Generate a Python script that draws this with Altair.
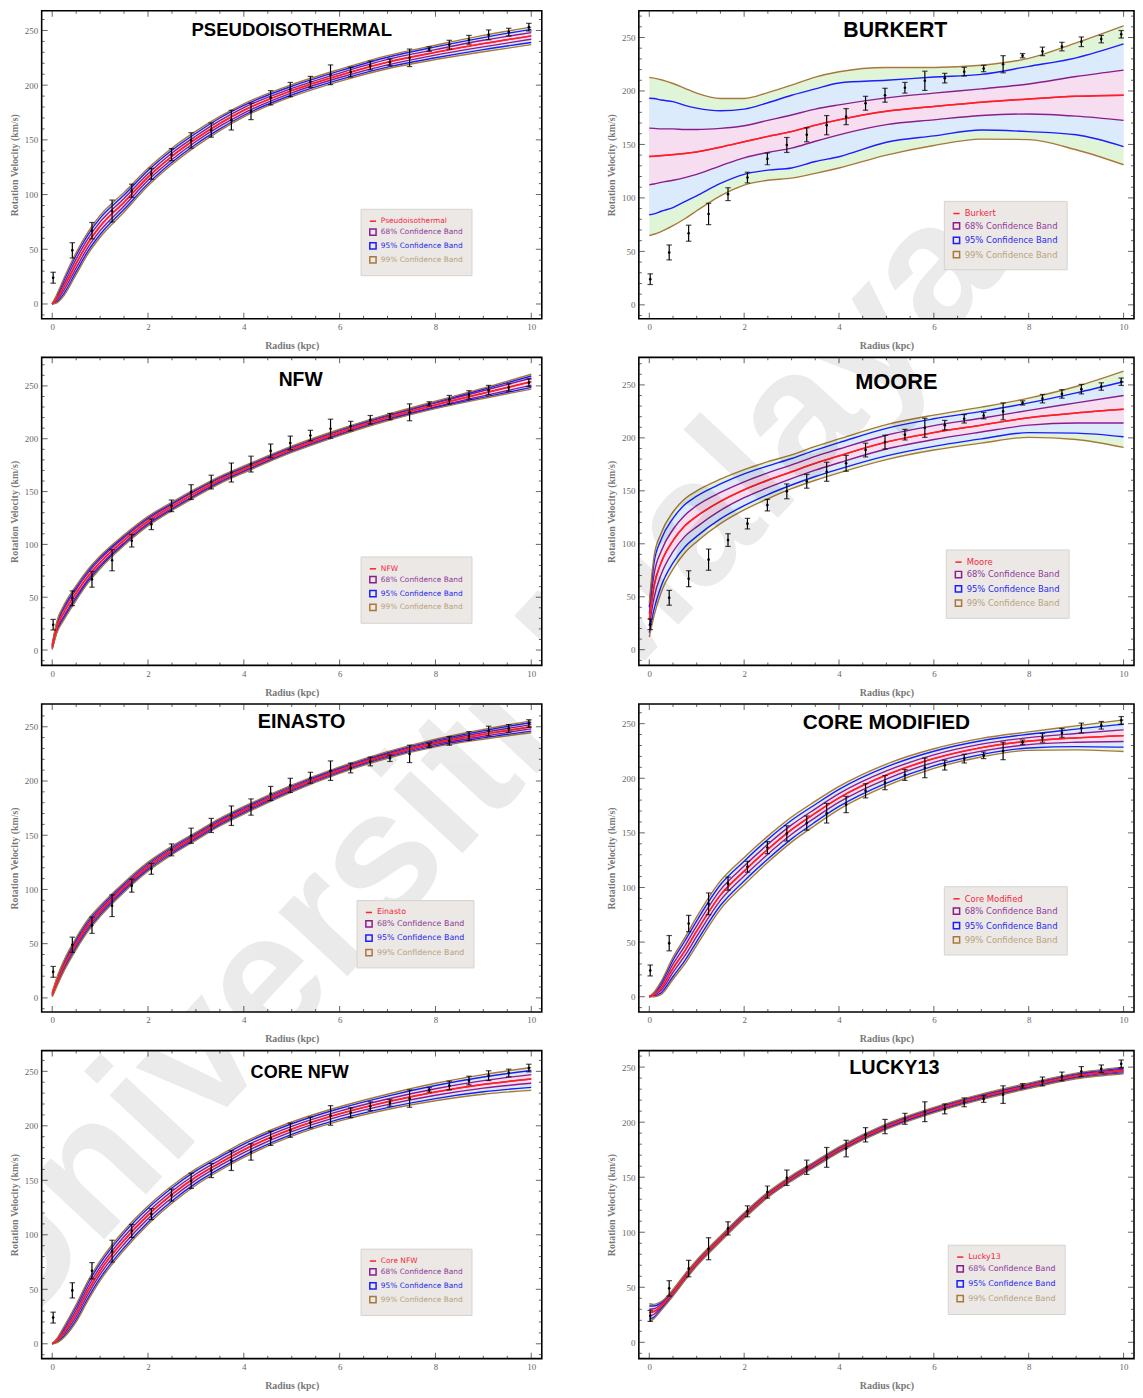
import altair as alt
import pandas as pd

# ---------------- data ----------------
# radii (kpc) at which the fitted curves / bands were read
XG = [0, 0.1, 0.25, 0.5, 0.75, 1, 1.5, 2, 2.5, 3, 3.5, 4, 5, 6, 7, 8, 9, 10]

# observed rotation curve (same in every panel)
RADIUS = [0.02, 0.42, 0.83, 1.25, 1.66, 2.07, 2.49, 2.90, 3.32, 3.74, 4.15, 4.56, 4.97,
          5.39, 5.81, 6.23, 6.64, 7.05, 7.46, 7.87, 8.29, 8.70, 9.11, 9.53, 9.95]
VEL = [24, 49, 67, 85, 103.5, 119, 136.5, 149.5, 159, 168, 176, 188.5, 196,
       203, 209.5, 212, 218, 221, 225, 233, 237, 241.5, 246, 248.5, 253]
ERR = [5, 7, 7.5, 10, 6, 5, 5.5, 7, 6.5, 9, 7.5, 6.5, 6.5,
       5, 9, 4.5, 4, 3, 8, 2, 4, 4, 4.5, 3.5, 3.5]

# fitted curves (centre) and half widths of the 68/95/99 % bands
PSEUDO_C = [0, 5, 16, 37, 56, 71, 93, 116, 135, 151, 165, 177, 195, 209, 221, 230, 238, 245]
PSEUDO_W68 = [0, 1.5, 3, 4, 4, 4, 3.5, 3, 3, 2.5, 2.5, 2.5, 2, 2, 2.5, 2.5, 3, 3]
PSEUDO_W95 = [0, 3, 6, 7.5, 7.5, 7.5, 6.5, 6, 5.5, 5, 5, 4.5, 4, 4, 4.5, 5, 5.5, 6]
PSEUDO_W99 = [0, 4, 8, 10, 10, 10, 9, 8, 7.5, 7, 6.5, 6, 5.5, 5.5, 6, 6.5, 7.5, 8]

BURKERT_C = [138.7, 139, 139.5, 140.5, 141.5, 143, 147.5, 152.5, 157.5, 162, 168, 173, 181, 185.5, 189.5, 192.5, 195, 196]
BURKERT_W68 = [26.5, 26, 25, 24, 22.5, 21, 17.5, 15, 15, 15.5, 15, 14, 12.5, 12.5, 12.5, 14, 18.5, 23.5]
BURKERT_W95 = [54.5, 54, 52, 49.5, 45, 41, 34, 30.5, 31.5, 34, 34, 34.5, 29, 27.5, 26, 30.5, 36, 48]
BURKERT_W99 = [74, 73, 71, 66.5, 61, 55, 45.5, 40.5, 41, 43.5, 45, 45, 41, 36.5, 34.5, 38, 50, 65]

NFW_C = [3, 22, 36, 54, 70, 83, 104, 122, 136, 149, 161, 171, 190, 206, 220, 232, 243, 254]
NFW_W68 = [1.2, 2.6, 3.3, 3.3, 3, 2.8, 2.4, 2.1, 1.9, 1.8, 1.6, 1.5, 1.4, 1.4, 1.4, 1.7, 2.4, 3.4]
NFW_W95 = [1.9, 4.2, 5.3, 5.3, 4.9, 4.5, 3.8, 3.4, 3.0, 2.8, 2.6, 2.4, 2.3, 2.3, 2.3, 2.7, 3.8, 5.4]
NFW_W99 = [2.5, 5.5, 7, 7, 6.5, 6, 5, 4.5, 4, 3.7, 3.4, 3.2, 3, 3, 3, 3.5, 4.9, 7]

MOORE_C = [28, 60, 82, 103, 117, 126, 140, 151, 160, 168, 176, 183, 196, 205, 212, 219, 223.5, 227]
MOORE_W68 = [6, 11, 11, 10.5, 10, 10, 8.5, 7.5, 7, 6.5, 6.5, 6.5, 6.5, 6.5, 6.5, 7, 9.5, 13]
MOORE_W95 = [12, 22, 22, 21, 20, 19, 16.5, 15, 13.5, 12.5, 12.5, 12.5, 13, 13, 13, 14, 19, 26]
MOORE_W99 = [16, 28, 28, 27, 25.5, 24, 21, 19, 17.5, 16, 16, 16, 16.5, 16.5, 17, 18.5, 25, 36]

EINASTO_C = [3, 15, 30, 50, 67, 80, 102, 121, 136, 149, 162, 173, 193, 210, 224, 235, 243, 250]
EINASTO_W68 = [0.7, 1.5, 1.8, 2, 2, 1.8, 1.7, 1.6, 1.5, 1.4, 1.3, 1.3, 1.2, 1.1, 1.1, 1.3, 1.7, 2]
EINASTO_W95 = [1.5, 3, 3.7, 4, 4, 3.7, 3.3, 3.1, 3, 2.7, 2.6, 2.6, 2.4, 2.2, 2.2, 2.6, 3.3, 4]
EINASTO_W99 = [2, 4, 5, 5.5, 5.5, 5, 4.5, 4.2, 4, 3.7, 3.5, 3.5, 3.2, 3, 3, 3.5, 4.5, 5.5]

COREMOD_C = [0, 2, 8, 26, 42, 60, 93, 115, 135, 153, 168, 182, 203, 218, 228, 234, 237, 239]
COREMOD_W68 = [0, 0.7, 2.2, 3.8, 4.5, 4.8, 4.8, 4.6, 4.5, 4.3, 4, 3.9, 3.7, 3.4, 3.2, 3.2, 4, 5.3]
COREMOD_W95 = [0, 1.5, 4.5, 7.5, 9, 9.5, 9.5, 9, 9, 8.5, 8, 7.8, 7.4, 6.7, 6.3, 6.3, 8, 10.5]
COREMOD_W99 = [0, 2, 6, 10, 12, 13, 13, 12.5, 12, 11.5, 11, 10.5, 10, 9, 8.5, 8.5, 11, 14.5]

CORENFW_C = [0, 3, 11, 28, 49, 67, 95, 118, 137, 153, 166, 178, 197, 211, 222, 231, 238, 243]
CORENFW_W68 = [0, 0.7, 1.8, 3, 3.4, 3.4, 3.4, 3.2, 3, 2.8, 2.6, 2.6, 2.4, 2.4, 2.6, 3, 3.4, 4]
CORENFW_W95 = [0, 1.5, 3.8, 6, 6.8, 6.8, 6.8, 6.4, 6, 5.6, 5.3, 5.3, 4.9, 4.9, 5.3, 6, 6.8, 7.7]
CORENFW_W99 = [0, 2, 5, 8, 9, 9, 9, 8.5, 8, 7.5, 7, 7, 6.5, 6.5, 7, 8, 9, 10.5]

LUCKY_C = [27, 28, 33, 45, 59, 72, 94, 115, 134, 149, 162, 175, 196, 211, 223, 233, 242, 247]
LUCKY_W68 = [3, 2.5, 1.5, 1.1, 1.1, 1, 1, 1, 0.9, 0.9, 0.9, 0.9, 0.9, 0.9, 0.9, 0.9, 1, 1.1]
LUCKY_W95 = [6, 5, 3, 2.2, 2.2, 2, 1.9, 1.9, 1.8, 1.8, 1.8, 1.8, 1.8, 1.8, 1.8, 1.8, 1.9, 2.2]
LUCKY_W99 = [8, 6.5, 4, 3, 3, 2.8, 2.6, 2.6, 2.5, 2.5, 2.5, 2.5, 2.5, 2.5, 2.5, 2.5, 2.6, 3]

BANDS = ["68% Confidence Band", "95% Confidence Band", "99% Confidence Band"]
X_LABELS = [0, 2, 4, 6, 8, 10]
X_MINOR = [0.5, 1, 1.5, 2.5, 3, 3.5, 4.5, 5, 5.5, 6.5, 7, 7.5, 8.5, 9, 9.5]
Y_LABELS = [0, 50, 100, 150, 200, 250]
Y_MINOR = [-10, 10, 20, 30, 40, 60, 70, 80, 90, 110, 120, 130, 140, 160, 170, 180, 190,
           210, 220, 230, 240, 260, 270]

# ---------------- style ----------------
RED, PURPLE, BLUE, BROWN = "#ff1f2a", "#8a1c8c", "#1c1cff", "#a8783a"
FILL68, FILL95, FILL99 = "#f6def0", "#dcebfb", "#e0f5d8"
SERIF = "Liberation Serif"
W_L, W_R, H = 505, 500, 311
SP_X, SP_Y = 63, 5
LEFT_X, RIGHT_X, TOP_Y, ROW_PITCH = 42, 640, 8, 348
WM_CX, WM_CY, WM_ANGLE = 470, 772, 313  # watermark centre on the page

SHAPE_SIG = "indexof(datum.label, '%') < 0 ? 'stroke' : 'square'"
LBLCOL_SIG = ("indexof(datum.label, '68%') >= 0 ? '#8e3a9a' : "
              "indexof(datum.label, '95%') >= 0 ? '#2a2aee' : "
              "indexof(datum.label, '99%') >= 0 ? '#b8a37e' : '#f0283f'")

PANELS = [
    dict(title="PSEUDOISOTHERMAL", name="Pseudoisothermal", C=PSEUDO_C, w=(PSEUDO_W68, PSEUDO_W95, PSEUDO_W99),
         ydom=[-13.5, 268], tdx=0, tdy=19, tfs=18.7, leg=(322, 200, 7.5, 0)),
    dict(title="BURKERT", name="Burkert", C=BURKERT_C, w=(BURKERT_W68, BURKERT_W95, BURKERT_W99),
         ydom=[-13, 275], tdx=9, tdy=20, tfs=21.5, leg=(308, 192, 8.5, 1.5)),
    dict(title="NFW", name="NFW", C=NFW_C, w=(NFW_W68, NFW_W95, NFW_W99),
         ydom=[-14.5, 277], tdx=9, tdy=23, tfs=19.5, leg=(322, 201, 7.5, 0)),
    dict(title="MOORE", name="Moore", C=MOORE_C, w=(MOORE_W68, MOORE_W95, MOORE_W99),
         ydom=[-14.8, 276], tdx=10, tdy=25, tfs=22, leg=(310, 194, 8.5, 1.5)),
    dict(title="EINASTO", name="Einasto", C=EINASTO_C, w=(EINASTO_W68, EINASTO_W95, EINASTO_W99),
         ydom=[-13, 271], tdx=10, tdy=18, tfs=20, leg=(318, 198, 8, 0.5)),
    dict(title="CORE MODIFIED", name="Core Modified", C=COREMOD_C, w=(COREMOD_W68, COREMOD_W95, COREMOD_W99),
         ydom=[-14, 268], tdx=0, tdy=19, tfs=21, leg=(308, 184, 8.5, 1.5)),
    dict(title="CORE NFW", name="Core NFW", C=CORENFW_C, w=(CORENFW_W68, CORENFW_W95, CORENFW_W99),
         ydom=[-13.6, 269], tdx=8, tdy=23, tfs=18.2, leg=(322, 200, 7.5, 0)),
    dict(title="LUCKY13", name="Lucky13", C=LUCKY_C, w=(LUCKY_W68, LUCKY_W95, LUCKY_W99),
         ydom=[-14.8, 265], tdx=8, tdy=18, tfs=20, leg=(312, 196, 8, 1)),
]


def make_panel(i, p):
    W = W_L if i % 2 == 0 else W_R
    ox = LEFT_X if i % 2 == 0 else RIGHT_X
    oy = TOP_Y + (i // 2) * ROW_PITCH
    lo_d, hi_d = p["ydom"]
    xs = alt.Scale(domain=[-0.22, 10.22], nice=False, zero=False)
    ys = alt.Scale(domain=p["ydom"], nice=False, zero=False)
    xaxis = alt.Axis(values=X_LABELS, title="Radius (kpc)", labelPadding=4, titlePadding=9)
    yaxis = alt.Axis(values=Y_LABELS, title="Rotation Velocity (km/s)", labelPadding=4, titlePadding=5)

    def X(f):
        return alt.X(f"{f}:Q", scale=xs, axis=xaxis)

    def Y(f):
        return alt.Y(f"{f}:Q", scale=ys, axis=yaxis)

    C = p["C"]
    df = pd.DataFrame({"x": XG, "c": C})
    for k, w in zip(("68", "95", "99"), p["w"]):
        df["lo" + k] = [c - v for c, v in zip(C, w)]
        df["hi" + k] = [c + v for c, v in zip(C, w)]

    base = alt.Chart(df)
    areas = [
        base.mark_area(color=col, interpolate="monotone").encode(x=X("x"), y=Y("lo" + k), y2=f"hi{k}:Q")
        for k, col in (("99", FILL99), ("95", FILL95), ("68", FILL68))
    ]

    rows = []
    for k, band in zip(("68", "95", "99"), BANDS):
        for side in ("lo", "hi"):
            for xv, yv in zip(XG, df[side + k]):
                rows.append({"x": xv, "v": yv, "band": band, "part": side + k})
    for xv, yv in zip(XG, C):
        rows.append({"x": xv, "v": yv, "band": p["name"], "part": "c"})
    long = pd.DataFrame(rows)

    lx, ly, fs, rp = p["leg"]
    legend = alt.Legend(
        orient="none", legendX=lx, legendY=ly, title=None,
        fillColor="#ece8e5", strokeColor="#d6d2ce", padding=8.5,
        labelFont="DejaVu Sans", labelFontSize=fs, labelLimit=300,
        symbolSize=40, symbolStrokeWidth=1.5, rowPadding=rp,
        symbolType={"expr": SHAPE_SIG},
        labelColor={"expr": LBLCOL_SIG},
    )
    lines = alt.Chart(long).mark_line(interpolate="monotone", strokeWidth=1.4).encode(
        x=X("x"), y=Y("v"),
        color=alt.Color("band:N", scale=alt.Scale(domain=[p["name"]] + BANDS,
                                                   range=[RED, PURPLE, BLUE, BROWN]), legend=legend),
        detail="part:N",
    )
    centre = base.mark_line(color=RED, strokeWidth=1.6, interpolate="monotone").encode(x=X("x"), y=Y("c"))

    ed = pd.DataFrame({"r": RADIUS, "v": VEL,
                       "lo": [v - e for v, e in zip(VEL, ERR)],
                       "hi": [v + e for v, e in zip(VEL, ERR)]})
    eb = alt.Chart(ed)
    err = [
        eb.mark_rule(color="black", strokeWidth=1.2).encode(x=X("r"), y=Y("lo"), y2="hi:Q"),
        eb.mark_tick(orient="horizontal", color="black", size=5.5, thickness=1.2).encode(x=X("r"), y=Y("lo")),
        eb.mark_tick(orient="horizontal", color="black", size=5.5, thickness=1.2).encode(x=X("r"), y=Y("hi")),
        eb.mark_point(filled=True, color="black", size=7, opacity=1).encode(x=X("r"), y=Y("v")),
    ]

    ticks = []
    for vals, s in ((X_LABELS, 6), (X_MINOR, 3)):
        tdf = alt.Chart(pd.DataFrame({"t": vals}))
        for yy in (H - s / 2, s / 2):
            ticks.append(tdf.mark_tick(orient="vertical", color="#222", size=s, thickness=1)
                         .encode(x=X("t"), y=alt.value(yy)))
    for vals, s in ((Y_LABELS, 6), (Y_MINOR, 3)):
        inside = [v for v in vals if lo_d + 1 < v < hi_d - 1]
        tdf = alt.Chart(pd.DataFrame({"t": inside}))
        for xx in (s / 2, W - s / 2):
            ticks.append(tdf.mark_tick(orient="horizontal", color="#222", size=s, thickness=1)
                         .encode(y=Y("t"), x=alt.value(xx)))

    title = alt.Chart(pd.DataFrame({"t": [p["title"]]})).mark_text(
        font="Liberation Sans", fontWeight="bold", fontSize=p["tfs"], color="black",
        align="center", baseline="middle").encode(
        text="t:N", x=alt.value(W / 2 + p["tdx"]), y=alt.value(p["tdy"]))

    wm = alt.Chart(pd.DataFrame({"t": ["Universiti Malaya"]})).mark_text(
        clip=True, angle=WM_ANGLE, fontSize=180, font="Liberation Sans", fontWeight="bold",
        color="#000000", opacity=0.08, align="center", baseline="middle").encode(
        text="t:N", x=alt.value(WM_CX - ox), y=alt.value(WM_CY - oy))

    return alt.layer(*areas, lines, centre, *err, *ticks, title, wm).properties(width=W, height=H)


charts = [make_panel(i, p) for i, p in enumerate(PANELS)]
rows = [
    alt.hconcat(charts[2 * r], charts[2 * r + 1], spacing=SP_X)
    .resolve_scale(color="independent", x="independent", y="independent")
    .resolve_legend(color="independent")
    for r in range(4)
]
chart = (
    alt.vconcat(*rows, spacing=SP_Y)
    .resolve_scale(color="independent", x="independent", y="independent")
    .resolve_legend(color="independent")
    .properties(padding={"left": 0, "top": -5, "right": 0, "bottom": 0}, background="white")
    .configure_view(stroke="black", strokeWidth=1.6)
    .configure_axis(labelFont=SERIF, labelFontSize=9, labelColor="#666666",
                    titleFont=SERIF, titleFontSize=10, titleColor="#777777", titleFontWeight="bold",
                    grid=False, ticks=False, domain=False)
)

chart.save("out.html", embed_options={"renderer": "svg", "actions": False})
